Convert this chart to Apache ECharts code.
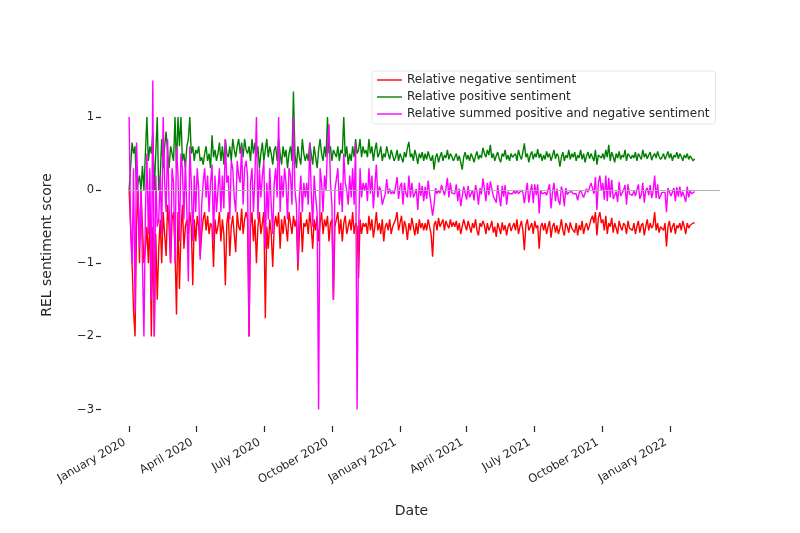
<!DOCTYPE html>
<html lang="en">
<head>
    <meta charset="UTF-8" />
    <title>REL sentiment score</title>
    <script src="https://cdn.jsdelivr.net/npm/echarts@6.0.0/dist/echarts.min.js"></script>
    <style>
        html, body {
            margin: 0;
            padding: 0;
            background: #ffffff;
        }
        #chart {
            width: 800px;
            height: 533px;
        }
    </style>
</head>
<body>
<div id="chart"></div>
<script>
    // one reading every 2 days, starting 1 January 2020
    const startDate = Date.UTC(2020, 0, 1);
    const stepDays = 2;

    const negativeScores = [
        0, -0.5, -1.0, -1.65, -2.0, -0.5, 0, -1.0, 0, -0.5, -1.0, -0.8, -0.5, -1.0, -0.33, -2.0, -0.5, -2.0, -0.6, -1.5,
        -0.8, -0.4, -1.0, -0.3, -0.6, -0.9, -0.2, -0.5, -1.0, -0.4, -0.3, -0.8, -1.7, -0.3, -1.35, -0.6, -0.2, -0.8, -0.5, -0.4,
        -0.6, -0.3, -0.5, -1.3, -0.4, -0.7, -0.35, -0.5, -0.9, -0.6, -0.4, -0.3, -0.55, -0.35, -0.6, -0.45, -0.5, -1.05, -0.4, -0.6,
        -0.5, -0.3, -0.7, -0.4, -0.6, -1.3, -0.45, -0.3, -0.9, -0.5, -0.35, -0.6, -0.85, -0.3, -0.5, -0.55, -0.25, -0.6, -0.4, -0.3,
        -0.4, -2.0, -0.5, -0.3, -0.7, -0.4, -1.0, -0.5, -0.3, -0.6, -0.45, -0.3, -1.75, -0.5, -0.8, -0.4, -0.6, -1.05, -0.5, -0.35,
        -0.5, -0.3, -0.8, -0.4, -0.6, -0.35, -0.5, -0.7, -0.3, -0.45, -0.6, -0.35, -0.5, -0.4, -1.1, -0.6, -0.3, -0.85, -0.45, -0.5,
        -0.4, -0.6, -0.3, -0.5, -0.8, -0.4, -0.55, -0.35, -0.7, -0.45, -0.3, -0.6, -0.4, -0.5, -0.35, -0.7, -0.45, -0.4, -1.5, -0.5,
        -0.5, -0.3, -0.6, -0.4, -0.7, -0.45, -0.35, -0.6, -0.5, -0.4, -0.55, -0.3, -0.6, -0.45, -0.5, -1.2, -0.4, -0.6, -0.45, -0.5,
        -0.45, -0.6, -0.35, -0.55, -0.4, -0.65, -0.5, -0.3, -0.55, -0.45, -0.6, -0.4, -0.7, -0.5, -0.45, -0.55, -0.4, -0.6, -0.5, -0.45,
        -0.4, -0.3, -0.55, -0.45, -0.35, -0.6, -0.42, -0.5, -0.68, -0.45, -0.55, -0.38, -0.5, -0.62, -0.45, -0.6, -0.4, -0.52, -0.45, -0.55,
        -0.45, -0.55, -0.4, -0.5, -0.6, -0.91, -0.48, -0.42, -0.55, -0.38, -0.5, -0.45, -0.4, -0.55, -0.42, -0.48, -0.52, -0.4, -0.5, -0.44,
        -0.5, -0.42, -0.55, -0.45, -0.6, -0.5, -0.4, -0.48, -0.55, -0.42, -0.5, -0.58, -0.45, -0.52, -0.4, -0.55, -0.62, -0.45, -0.5, -0.42,
        -0.48, -0.6, -0.45, -0.55, -0.5, -0.42, -0.58, -0.5, -0.64, -0.45, -0.52, -0.6, -0.44, -0.55, -0.48, -0.62, -0.5, -0.45, -0.56, -0.5,
        -0.45, -0.55, -0.4, -0.6, -0.5, -0.42, -0.55, -0.82, -0.48, -0.4, -0.55, -0.5, -0.45, -0.6, -0.42, -0.52, -0.48, -0.8, -0.5, -0.45,
        -0.55, -0.45, -0.6, -0.5, -0.42, -0.65, -0.5, -0.45, -0.58, -0.48, -0.6, -0.52, -0.4, -0.55, -0.62, -0.45, -0.5, -0.58, -0.44, -0.52,
        -0.5, -0.58, -0.45, -0.62, -0.48, -0.55, -0.42, -0.6, -0.5, -0.45, -0.55, -0.48, -0.4, -0.35, -0.45, -0.3, -0.62, -0.38, -0.3, -0.45,
        -0.4, -0.55, -0.35, -0.6, -0.45, -0.5, -0.38, -0.58, -0.45, -0.52, -0.6, -0.42, -0.5, -0.55, -0.45, -0.48, -0.6, -0.42, -0.52, -0.5,
        -0.55, -0.45, -0.6, -0.5, -0.42, -0.58, -0.48, -0.45, -0.62, -0.5, -0.4, -0.55, -0.45, -0.52, -0.48, -0.3, -0.55, -0.45, -0.58, -0.5,
        -0.48, -0.55, -0.45, -0.77, -0.5, -0.42, -0.58, -0.5, -0.45, -0.6, -0.48, -0.52, -0.45, -0.55, -0.42, -0.5, -0.6, -0.45, -0.52, -0.48,
        -0.5, -0.45, -0.45
    ];

    const positiveScores = [
        0, 0, 0.65, 0.5, 0.6, 0, 0, 0.2, 0, 0.33, 0, 0.5, 1.0, 0.4, 0.6, 0.5, 0.8, 0, 0.5, 1.0,
        0, 0.2, 0.7, 0.3, 0.6, 0.8, 0.5, 0.3, 0.6, 0.5, 0.4, 1.0, 0.3, 1.0, 0.6, 1.0, 0.4, 0.5, 0.3, 0.6,
        0.7, 1.0, 0.5, 0.6, 0.4, 0.55, 0.5, 0.6, 0.4, 0.45, 0.35, 0.5, 0.6, 0.4, 0.5, 0.3, 0.75, 0.45, 0.55, 0.4,
        0.5, 0.65, 0.4, 0.6, 0.35, 0.7, 0.5, 0.45, 0.6, 0.4, 0.7, 0.55, 0.45, 0.6, 0.7, 0.5, 0.65, 0.45, 0.7, 0.55,
        0.5, 0.6, 0.4, 0.7, 0.5, 0.65, 0.45, 0.6, 0.3, 0.5, 0.65, 0.4, 0.55, 0.7, 0.45, 0.6, 0.5, 0.35, 0.55, 0.6,
        0.4, 0.7, 0.5, 0.35, 0.6, 0.45, 0.55, 0.3, 0.5, 0.6, 0.4, 1.35, 0.5, 0.3, 0.6, 0.45, 0.35, 0.7, 0.5, 0.4,
        0.5, 0.4, 0.65, 0.5, 0.35, 0.6, 0.45, 0.3, 0.55, 0.7, 0.5, 0.4, 0.6, 0.45, 1.0, 0.5, 0.6, 0.4, 0.55, 0.5,
        0.45, 0.6, 0.4, 0.55, 0.5, 1.0, 0.45, 0.6, 0.35, 0.5, 0.4, 0.6, 0.45, 0.7, 0.5, 0.55, 0.7, 0.45, 0.6, 0.5,
        0.55, 0.45, 0.7, 0.5, 0.6, 0.4, 0.55, 0.65, 0.45, 0.5, 0.6, 0.4, 0.5, 0.45, 0.6, 0.5, 0.42, 0.55, 0.48, 0.4,
        0.45, 0.55, 0.4, 0.5, 0.48, 0.38, 0.52, 0.45, 0.58, 0.66, 0.45, 0.5, 0.4, 0.55, 0.47, 0.36, 0.5, 0.44, 0.52, 0.4,
        0.5, 0.42, 0.53, 0.45, 0.4, 0.48, 0.28, 0.45, 0.5, 0.38, 0.46, 0.52, 0.4, 0.48, 0.44, 0.55, 0.42, 0.5, 0.46, 0.4,
        0.45, 0.5, 0.4, 0.47, 0.38, 0.28, 0.45, 0.52, 0.42, 0.48, 0.4, 0.5, 0.45, 0.38, 0.47, 0.53, 0.42, 0.48, 0.44, 0.58,
        0.5, 0.45, 0.55, 0.48, 0.62, 0.44, 0.5, 0.4, 0.47, 0.52, 0.43, 0.38, 0.5, 0.46, 0.55, 0.42, 0.48, 0.4, 0.5, 0.45,
        0.44, 0.5, 0.4, 0.55, 0.47, 0.42, 0.52, 0.64, 0.45, 0.5, 0.38, 0.48, 0.53, 0.42, 0.5, 0.45, 0.56, 0.44, 0.5, 0.4,
        0.48, 0.42, 0.53, 0.45, 0.5, 0.4, 0.47, 0.55, 0.43, 0.5, 0.46, 0.32, 0.45, 0.52, 0.4, 0.48, 0.44, 0.55, 0.42, 0.5,
        0.45, 0.52, 0.4, 0.48, 0.44, 0.55, 0.42, 0.5, 0.38, 0.47, 0.52, 0.43, 0.5, 0.45, 0.4, 0.55, 0.35, 0.48, 0.5, 0.44,
        0.5, 0.42, 0.55, 0.45, 0.62, 0.4, 0.52, 0.46, 0.38, 0.5, 0.44, 0.53, 0.42, 0.48, 0.45, 0.55, 0.4, 0.5, 0.47, 0.43,
        0.48, 0.44, 0.52, 0.4, 0.5, 0.46, 0.42, 0.55, 0.45, 0.5, 0.43, 0.48, 0.52, 0.41, 0.47, 0.5, 0.44, 0.53, 0.46, 0.42,
        0.45, 0.5, 0.42, 0.47, 0.53, 0.44, 0.5, 0.4, 0.48, 0.45, 0.52, 0.43, 0.5, 0.46, 0.4, 0.48, 0.44, 0.5, 0.42, 0.47,
        0.45, 0.4, 0.43
    ];

    const summedScores = [
        1.0, -0.5, -1.0, 0.3, -1.65, 0.65, 0, -0.8, 0, -1.0, -2.0, -0.3, 0.5, -0.6, 0.3, -1.5, 1.5, -2.0, 0.2, -0.5,
        -0.4, 0.2, -0.6, 1.0, 0.1, -0.3, 0.7, -0.2, -1.0, 0.3, 0.1, -1.0, 0.6, 0.2, -0.7, 0.5, 0.3, -0.4, 0.4, -0.3,
        -1.25, 0.6, 0.1, -0.7, 0.2, -0.3, 0.3, 0.0, -0.95, -0.2, 0.1, 0.3, -0.1, 0.2, -0.3, 0.1, 0.35, -0.7, 0.2, -0.3,
        0.0, 0.3, -0.3, 0.2, -0.25, 0.7, 0.1, 0.2, -0.4, 0.4, 0.3, -0.1, -0.3, 0.4, 0.2, 0.1, 0.6, -0.2, 0.3, 0.4,
        0.2, -2.0, 0.1, 0.3, -0.3, 0.2, 1.0, -0.4, 0.3, -0.1, 0.2, 0.4, -0.8, 0.1, -0.4, 0.3, -0.2, -0.6, 0.1, 0.3,
        -0.1, 1.0, -0.3, 0.2, -0.1, 0.3, 0.1, -0.4, 0.3, 0.2, -0.2, 1.0, 0.0, -0.2, -1.0, -0.1, 0.2, -0.3, 0.1, -0.1,
        0.1, -0.2, 0.65, 0.0, -0.5, 0.2, -0.1, -0.3, -3.0, 0.3, 0.1, -0.3, 0.2, 0.0, 0.6, 0.9, 0.1, -0.2, -1.5, 0.0,
        0.0, 0.3, -0.2, 0.1, -0.3, 0.5, 0.1, 0.0, -0.2, 0.2, -0.1, 0.3, -0.2, 0.65, -3.0, -0.6, 0.3, -0.1, 0.1, 0.0,
        0.1, -0.15, 0.3, -0.05, 0.2, -0.25, 0.05, 0.35, -0.1, 0.05, 0.0, -0.2, -0.2, -0.05, 0.15, -0.05, 0.02, -0.05, -0.02, -0.05,
        0.05, 0.18, -0.12, 0.05, 0.1, -0.2, 0.1, -0.05, -0.1, 0.2, -0.1, 0.1, -0.1, -0.05, 0.02, -0.27, 0.1, -0.08, 0.06, -0.15,
        0.05, -0.12, 0.13, -0.05, -0.2, -0.35, -0.2, 0.03, -0.05, 0.0, -0.04, 0.07, 0.0, -0.07, 0.02, 0.17, -0.1, 0.1, -0.04, -0.04,
        -0.05, 0.08, -0.15, 0.02, -0.22, -0.22, 0.05, 0.04, -0.13, 0.06, -0.1, -0.08, 0.0, -0.14, 0.07, -0.02, -0.2, 0.03, -0.06, 0.16,
        0.02, -0.15, 0.1, -0.07, 0.12, 0.02, -0.08, -0.1, -0.17, 0.07, -0.09, -0.22, 0.06, -0.09, 0.07, -0.2, -0.02, -0.05, -0.06, -0.05,
        -0.01, -0.05, 0.0, -0.05, -0.03, 0.0, -0.03, -0.18, -0.03, 0.1, -0.17, -0.02, 0.08, -0.18, 0.08, -0.07, 0.08, -0.32, 0.0, -0.05,
        -0.07, -0.03, -0.07, -0.05, 0.08, -0.25, -0.03, 0.1, -0.15, 0.02, -0.14, -0.2, 0.05, -0.03, -0.22, 0.03, -0.06, -0.03, -0.02, -0.02,
        -0.05, -0.06, -0.05, -0.14, -0.04, 0.0, 0.0, -0.1, -0.12, 0.02, -0.03, -0.05, 0.1, 0.1, -0.05, 0.18, -0.27, 0.1, 0.2, -0.01,
        0.1, -0.13, 0.2, -0.15, 0.17, -0.1, 0.14, -0.12, -0.07, -0.02, -0.16, 0.11, -0.08, -0.07, 0.0, 0.07, -0.2, 0.08, -0.05, -0.07,
        -0.07, -0.01, -0.08, -0.1, 0.08, -0.12, -0.06, 0.1, -0.17, 0.0, 0.03, -0.07, 0.07, -0.11, -0.01, 0.2, -0.11, 0.08, -0.12, -0.08,
        -0.03, -0.05, -0.03, -0.3, 0.03, 0.02, -0.08, -0.1, 0.03, -0.15, 0.04, -0.09, 0.05, -0.09, -0.02, -0.02, -0.16, 0.05, -0.1, -0.01,
        -0.05, -0.05, -0.02
    ];

    const seriesNames = [
        'Relative negative sentiment',
        'Relative positive sentiment',
        'Relative summed positive and negative sentiment'
    ];
    const seriesColors = ['#ff0000', '#008000', '#ff00ff'];

    const tickDates = [
        '2020-01-01', '2020-04-01', '2020-07-01', '2020-10-01',
        '2021-01-01', '2021-04-01', '2021-07-01', '2021-10-01', '2022-01-01'
    ];
    const yTicks = [-3, -2, -1, 0, 1];

    const monthNames = ['January', 'February', 'March', 'April', 'May', 'June',
        'July', 'August', 'September', 'October', 'November', 'December'];

    const dayMs = 86400000;
    const xMin = Date.UTC(2019, 10, 24);
    const xMax = Date.UTC(2022, 2, 12);
    const textColor = '#262626';
    const fontFamily = 'DejaVu Sans, sans-serif';

    function toPairs(values) {
        return values.map((v, i) => [startDate + i * stepDays * dayMs, v]);
    }

    function renderChart() {
        const chart = echarts.init(document.getElementById('chart'), null, { renderer: 'canvas' });
        const tickValues = tickDates.map(d => Date.parse(d + 'T00:00:00Z'));
        const allScores = [negativeScores, positiveScores, summedScores];

        const series = allScores.map((values, idx) => ({
            name: seriesNames[idx],
            type: 'line',
            data: toPairs(values),
            symbol: 'none',
            color: seriesColors[idx],
            lineStyle: { width: 1.4, color: seriesColors[idx] },
            emphasis: { disabled: true },
            z: 2 + idx
        }));

        // grey reference line at zero
        series[2].markLine = {
            silent: true,
            symbol: 'none',
            label: { show: false },
            lineStyle: { color: '#b0b0b0', width: 1, type: 'solid' },
            data: [[{ coord: [startDate, 0] }, { coord: [xMax - 3 * dayMs, 0] }]]
        };

        const option = {
            animation: false,
            textStyle: { fontFamily: fontFamily },
            grid: { left: 101, right: 78, top: 64, bottom: 107 },
            legend: {
                orient: 'vertical',
                left: 372,
                top: 71,
                padding: [3, 6, 4, 5],
                itemWidth: 25,
                itemHeight: 12,
                itemGap: 5,
                icon: 'path://M0,0H25V1.4H0Z',
                borderColor: '#e6e6e6',
                borderWidth: 1,
                borderRadius: 3,
                backgroundColor: 'rgba(255,255,255,0.85)',
                textStyle: { fontSize: 12, color: textColor, fontFamily: fontFamily },
                data: seriesNames
            },
            xAxis: {
                // dates as plain timestamps so the quarterly ticks can be placed exactly
                type: 'value',
                min: xMin,
                max: xMax,
                name: 'Date',
                nameLocation: 'middle',
                nameGap: 78,
                nameTextStyle: { fontSize: 14, color: textColor },
                axisLine: { show: false, onZero: false },
                splitLine: { show: false },
                axisTick: {
                    show: true,
                    customValues: tickValues,
                    length: 6,
                    lineStyle: { color: textColor, width: 1.2 }
                },
                axisLabel: {
                    customValues: tickValues,
                    rotate: 30,
                    margin: 13,
                    padding: [0, 5, 0, 0],
                    fontSize: 11.5,
                    color: textColor,
                    formatter: value => {
                        const d = new Date(value);
                        return monthNames[d.getUTCMonth()] + ' ' + d.getUTCFullYear();
                    }
                }
            },
            yAxis: {
                type: 'value',
                min: -3.225,
                max: 1.725,
                name: 'REL sentiment score',
                nameLocation: 'middle',
                nameGap: 47,
                nameTextStyle: { fontSize: 14, color: textColor },
                axisLine: { show: false, onZero: false },
                splitLine: { show: false },
                axisTick: {
                    show: true,
                    customValues: yTicks,
                    length: 5,
                    lineStyle: { color: textColor, width: 1.2 }
                },
                axisLabel: {
                    customValues: yTicks,
                    margin: 7,
                    fontSize: 11.5,
                    color: textColor,
                    formatter: value => String(value).replace('-', '\u2212')
                }
            },
            series: series
        };

        chart.setOption(option);
    }

    renderChart();
</script>
</body>
</html>
